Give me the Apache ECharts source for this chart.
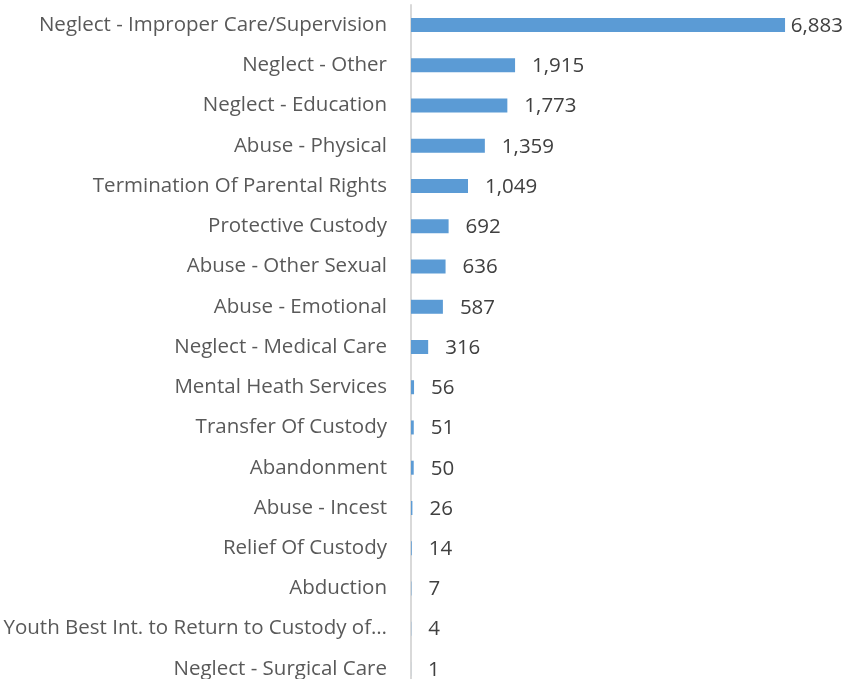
<!DOCTYPE html>
<html><head><meta charset="utf-8">
<script src="https://cdn.jsdelivr.net/npm/echarts@6/dist/echarts.min.js"></script>
<style>html,body{margin:0;padding:0;background:#fff;overflow:hidden}#c{width:843px;height:700px}</style>
</head><body><div id="c"></div>
<script>
var categories = [
  "Neglect - Improper Care/Supervision",
  "Neglect - Other",
  "Neglect - Education",
  "Abuse - Physical",
  "Termination Of Parental Rights",
  "Protective Custody",
  "Abuse - Other Sexual",
  "Abuse - Emotional",
  "Neglect - Medical Care",
  "Mental Heath Services",
  "Transfer Of Custody",
  "Abandonment",
  "Abuse - Incest",
  "Relief Of Custody",
  "Abduction",
  "Youth Best Int. to Return to Custody of\u2026",
  "Neglect - Surgical Care"
];
var values = [6883, 1915, 1773, 1359, 1049, 692, 636, 587, 316, 56, 51, 50, 26, 14, 7, 4, 1];

var FONT = "Open Sans";
var chart = echarts.init(document.getElementById('c'), null, {renderer: 'canvas'});
chart.setOption({
  animation: false,
  grid: {left: 411, right: 51.6, top: 5, bottom: 11, containLabel: false},
  xAxis: {
    type: 'value', min: 0, max: 7000,
    axisLabel: {show: false}, axisLine: {show: false}, axisTick: {show: false},
    splitLine: {show: false}
  },
  yAxis: {
    type: 'category', inverse: true, data: categories,
    axisLine: {show: true, lineStyle: {color: '#d9d9d9', width: 2}},
    axisTick: {show: false},
    axisLabel: {margin: 24, color: '#595959', fontFamily: FONT, fontSize: 20.5}
  },
  series: [{
    type: 'bar', data: values, barWidth: 14,
    itemStyle: {color: '#5b9bd5'},
    label: {
      show: true, position: 'right', distance: 17,
      color: '#404040', fontFamily: FONT, fontSize: 20.5,
      formatter: function (p) { return p.value.toLocaleString('en-US'); }
    },
    labelLayout: function (p) {
      var r = p.labelRect;
      if (r.x + r.width > 843) { return {x: 843 - r.width, y: r.y + 1}; }
      return {y: r.y + 1};
    }
  }]
});
</script></body></html>
